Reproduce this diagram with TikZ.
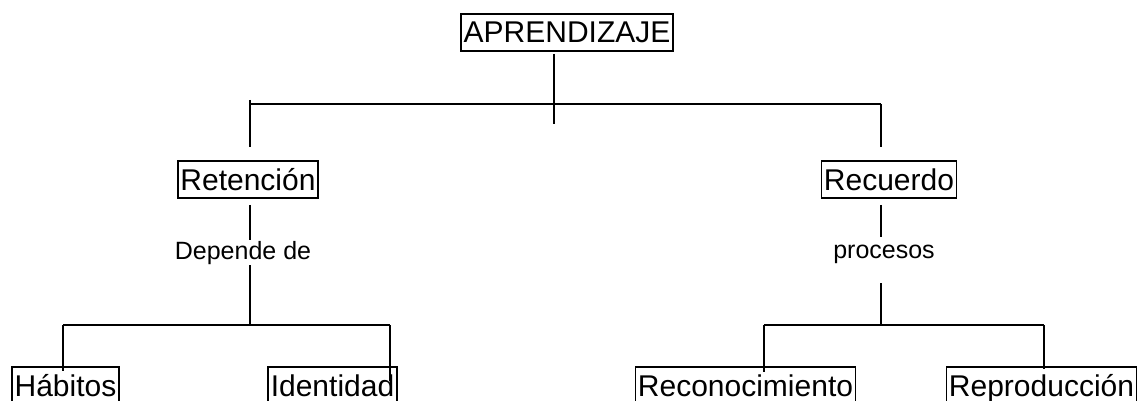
\documentclass[tikz,border=0pt]{standalone}
\usepackage{fontspec}
\setmainfont{Liberation Sans}
\usepackage{tikz}
\usetikzlibrary{calc}

\tikzset{
  caja/.style={draw, line width=1.8pt, inner xsep=2.5pt, inner ysep=0pt,
    text height=29pt, text depth=8pt, font=\fontsize{30}{36}\selectfont},
  etiqueta/.style={inner sep=0pt, anchor=base, font=\fontsize{25}{30}\selectfont},
  linea/.style={line width=2pt}
}

\begin{document}
\begin{tikzpicture}[x=1pt, y=-1pt, linea]
            \useasboundingbox (0,0) rectangle (1137,401);
            \clip (0,0) rectangle (1137,401);
            % nodos
            \node[caja] (aprendizaje) at (567,32.5) {APRENDIZAJE};
            \node[caja] (retencion) at (248,179.5) {Retención};
            \node[caja] (recuerdo) at (889,179.5) {Recuerdo};
            \node[etiqueta] (depende) at (243,259) {Depende de};
            \node[etiqueta] (procesos) at (884,258) {procesos};
            \node[caja] (habitos) at (65.5,385.5) {Hábitos};
            \node[caja] (identidad) at (332.5,385.5) {Identidad};
            \node[caja] (reconocimiento) at (745.5,385.5) {Reconocimiento};
            \node[caja] (reproduccion) at (1041.5,385.5) {Reproducción};
            % puntos de union
            \coordinate (jtop) at (554,104);
            \coordinate (esqI) at (250,104);
            \coordinate (esqD) at (880.5,104);
            \coordinate (jret) at (250,325);
            \coordinate (jrec) at (881,325);
            \coordinate (hab) at (63,325);
            \coordinate (ide) at (390,325);
            \coordinate (rcn) at (764,325);
            \coordinate (rpr) at (1044,325);
            % nivel 1
            \draw ($(aprendizaje.south -| jtop)+(0,2)$) -- ($(jtop)+(0,20)$);
            \draw (esqI) -- (esqD);
            \draw ($(esqI)+(0,-4)$) -- ($(retencion.north -| esqI)+(0,-13)$);
            \draw (esqD) -- ($(recuerdo.north -| esqD)+(0,-13)$);
            % Retencion
            \draw ($(retencion.south -| jret)+(0,6)$) -- (depende.north -| jret);
            \draw (depende.south -| jret) -- (jret);
            \draw (hab) -- (ide);
            \draw (hab) -- ($(habitos.north -| hab)+(0,5)$);
            \draw (ide) -- ($(identidad.north -| ide)+(0,15)$);
            % Recuerdo
            \draw ($(recuerdo.south -| jrec)+(0,6)$) -- ($(procesos.north -| jrec)+(0,-7)$);
            \draw ($(procesos.south -| jrec)+(0,19)$) -- (jrec);
            \draw (rcn) -- (rpr);
            \draw (rcn) -- ($(reconocimiento.north -| rcn)+(0,6)$);
            \draw (rpr) -- ($(reproduccion.north -| rpr)+(0,3)$);
      \end{tikzpicture}
\end{document}
